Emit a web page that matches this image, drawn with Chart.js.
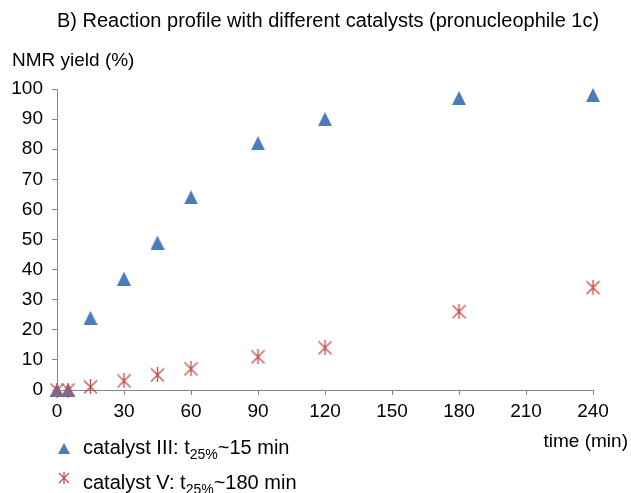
<!DOCTYPE html>
<html>
<head>
<meta charset="utf-8">
<script src="https://cdn.jsdelivr.net/npm/chart.js@4"></script>
<style>
    body { margin: 0; background: #fff; }
    #wrap {
        position: relative; width: 631px; height: 493px; overflow: hidden;
        font-family: "Liberation Sans", Arial, sans-serif; color: #000;
    }
    #chart { position: absolute; left: 0; top: 0; }
    .txt { position: absolute; white-space: nowrap; line-height: 1; font-size: 19px; }
    .leg { font-size: 20px; }
    .leg sub { font-size: 14px; vertical-align: -5px; line-height: 0; }
    .mark { position: absolute; }
</style>
</head>
<body>
<div id="wrap">
    <canvas id="chart" width="631" height="493"></canvas>
    <div class="txt" style="left:57px; top:10px; font-size:20px;">B) Reaction profile with different catalysts (pronucleophile 1c)</div>
    <div class="txt" style="left:12px; top:50px;">NMR yield (%)</div>
    <div class="txt" style="right:3px; top:431px;">time (min)</div>

    <canvas class="mark" id="mark-iii" width="14" height="14" style="left:57px; top:441px;"></canvas>
    <div class="txt leg" style="left:83px; top:437px;">catalyst III: t<sub>25%</sub>~15 min</div>
    <canvas class="mark" id="mark-v" width="14" height="14" style="left:57px; top:471px;"></canvas>
    <div class="txt leg" style="left:83px; top:472px;">catalyst V: t<sub>25%</sub>~180 min</div>
</div>
<script>
/* ── Data ── */
const timeMin  = [0, 5, 15, 30, 45, 60, 90, 120, 180, 240];
const yieldIII = [0, 0, 24, 37, 49, 64, 82, 90, 97, 98];
const yieldV   = [0, 0, 1, 3, 5, 7, 11, 14, 26, 34];

const xTicks = [0, 30, 60, 90, 120, 150, 180, 210, 240];
const yTicks = [0, 10, 20, 30, 40, 50, 60, 70, 80, 90, 100];

const BLUE = '#4a7ebb';
const RED  = '#c0504d';
const AXIS = '#868686';

/* ── Marker images (drawn centred on the point) ── */
function makeTriangle(w, h) {
    const c = document.createElement('canvas');
    c.width = w; c.height = h;
    const g = c.getContext('2d');
    g.fillStyle = BLUE;
    g.beginPath();
    g.moveTo(w / 2, 0); g.lineTo(w, h); g.lineTo(0, h);
    g.closePath();
    g.fill();
    return c;
}

function makeStar(size, lw) {
    const c = document.createElement('canvas');
    c.width = size; c.height = size;
    const g = c.getContext('2d');
    const m = size / 2, r = size / 2 - 1;
    g.strokeStyle = RED;
    g.lineWidth = lw;
    g.beginPath();
    g.moveTo(m - r, m - r); g.lineTo(m + r, m + r);
    g.moveTo(m + r, m - r); g.lineTo(m - r, m + r);
    g.moveTo(m, m - r - 1); g.lineTo(m, m + r + 1);
    g.stroke();
    return c;
}

const triMark  = makeTriangle(14, 14);
const starMark = makeStar(15, 1.4);

function pairs(xs, ys) {
    return xs.map((x, i) => ({ x: x, y: ys[i] }));
}

const tickFont = { family: '"Liberation Sans", Arial, sans-serif', size: 19 };

new Chart(document.getElementById('chart'), {
    type: 'scatter',
    data: {
        datasets: [
            {
                label: 'catalyst III',
                data: pairs(timeMin, yieldIII),
                pointStyle: triMark,
                pointRadius: 7,
                clip: false,
                order: 2
            },
            {
                label: 'catalyst V',
                data: pairs(timeMin, yieldV),
                pointStyle: starMark,
                pointRadius: 7,
                clip: false,
                order: 1
            }
        ]
    },
    options: {
        responsive: false,
        animation: false,
        layout: { padding: { top: 89, right: 38, bottom: 63, left: 0 } },
        plugins: { legend: { display: false }, tooltip: { enabled: false } },
        scales: {
            x: {
                type: 'linear', min: 0, max: 240,
                afterFit: s => { s.height = 40; },
                afterBuildTicks: s => { s.ticks = xTicks.map(v => ({ value: v })); },
                ticks: { color: '#000', font: tickFont, padding: 5, maxRotation: 0 },
                grid: { drawOnChartArea: false, tickLength: 5, color: AXIS },
                border: { color: AXIS }
            },
            y: {
                type: 'linear', min: 0, max: 100,
                afterFit: s => { s.width = 57; },
                afterBuildTicks: s => { s.ticks = yTicks.map(v => ({ value: v })); },
                ticks: { color: '#000', font: tickFont, padding: 9 },
                grid: { drawOnChartArea: false, tickLength: 5, color: AXIS },
                border: { color: AXIS }
            }
        }
    }
});

/* ── Legend markers ── */
document.getElementById('mark-iii').getContext('2d').drawImage(makeTriangle(12, 11), 1, 2);
document.getElementById('mark-v').getContext('2d').drawImage(makeStar(12, 1.3), 1, 1);
</script>
</body>
</html>
